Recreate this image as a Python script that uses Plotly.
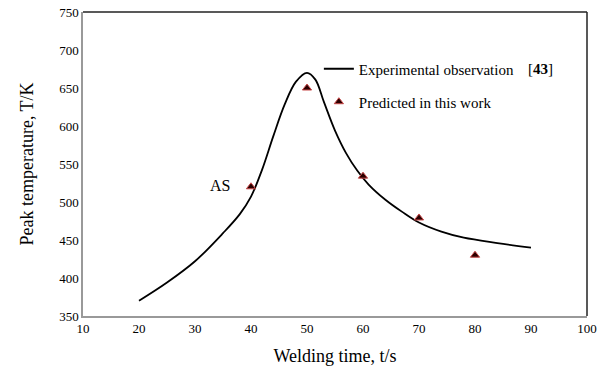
import plotly.graph_objects as go

# Experimental observation curve [43]
exp_time = [20, 25, 30, 35, 38, 40, 42, 44, 46, 48, 50, 51.5, 53, 55, 57, 59, 61, 64, 67, 70, 74, 78, 84, 90]
exp_temp = [370, 394, 422, 459, 484, 507, 543, 587, 628, 658, 670, 661, 632, 594, 564, 541, 523, 503, 487, 473, 461, 453, 446, 440]

# Predicted in this work
pred_time = [40, 50, 60, 70, 80]
pred_temp = [520, 650, 534, 479, 430]

x_ticks = [10, 20, 30, 40, 50, 60, 70, 80, 90, 100]
y_ticks = [350, 400, 450, 500, 550, 600, 650, 700, 750]

FONT = "Liberation Serif"

fig = go.Figure()
fig.add_trace(go.Scatter(
    x=exp_time, y=exp_temp, mode="lines",
    line=dict(color="black", width=1.8, shape="spline", smoothing=1.0),
    name="Experimental observation", legend="legend", showlegend=True,
))
fig.add_trace(go.Scatter(
    x=pred_time, y=pred_temp, mode="markers",
    marker=dict(symbol="triangle-up", size=8, color="#2a0000",
                line=dict(color="#c84848", width=1)),
    name="Predicted in this work", legend="legend2", showlegend=True,
))

fig.add_annotation(x=34.5, y=522, text="AS", showarrow=False,
                   font=dict(family=FONT, size=16, color="black"))
fig.add_annotation(x=0.879, y=0.8125, xref="paper", yref="paper", xanchor="left", yanchor="middle",
                   text="[<b>43</b>]", showarrow=False,
                   font=dict(family=FONT, size=15, color="black"))

# top and right frame lines
fig.add_shape(type="line", xref="x domain", yref="y domain", x0=0, x1=1, y0=1, y1=1,
              line=dict(color="#222222", width=1.5))
fig.add_shape(type="line", xref="x domain", yref="y domain", x0=1, x1=1, y0=0, y1=1,
              line=dict(color="#222222", width=1.5))

fig.update_layout(
    width=602, height=374,
    margin=dict(l=83, r=15, t=12, b=58, autoexpand=False),
    paper_bgcolor="white", plot_bgcolor="white",
    showlegend=True,
    font=dict(family=FONT, size=13, color="black"),
    legend=dict(x=0.468, y=0.8125, xanchor="left", yanchor="middle", visible=True,
                bgcolor="rgba(0,0,0,0)", font=dict(family=FONT, size=15),
                itemwidth=30),
    legend2=dict(x=0.468, y=0.704, xanchor="left", yanchor="middle", visible=True,
                 bgcolor="rgba(0,0,0,0)", font=dict(family=FONT, size=15),
                 itemwidth=30),
    xaxis=dict(range=[10, 100], tickvals=x_ticks, showgrid=False, zeroline=False,
               automargin=False,
               showline=True, linecolor="#999999", linewidth=1.5, ticks="",
               tickfont=dict(family=FONT, size=13),
               title=dict(text="Welding time, t/s", font=dict(family=FONT, size=18), standoff=14)),
    yaxis=dict(range=[350, 750], tickvals=y_ticks, showgrid=False, zeroline=False,
               automargin=False,
               showline=True, linecolor="#999999", linewidth=1.5, ticks="",
               tickfont=dict(family=FONT, size=13),
               title=dict(text="Peak temperature, T/K", font=dict(family=FONT, size=18), standoff=21)),
)

fig.write_html("out.html")
